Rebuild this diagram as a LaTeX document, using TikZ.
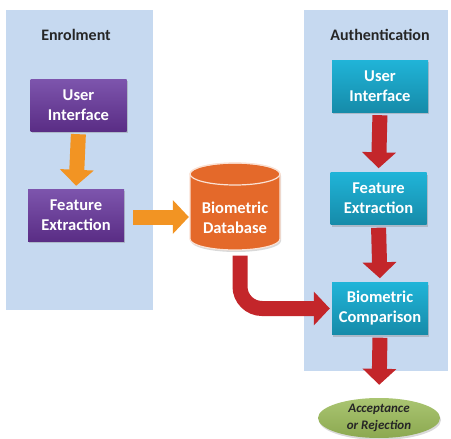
\documentclass[tikz,border=0pt]{standalone}
\usepackage{fontspec}
\setmainfont{Carlito}
\usepackage{tikz}
\usetikzlibrary{positioning,arrows.meta,shapes.geometric,shadows}

\definecolor{panelblue}{HTML}{C6D9F0}
\definecolor{purpleTop}{HTML}{7D55AD}
\definecolor{purpleBot}{HTML}{5A2D85}
\definecolor{cyanTop}{HTML}{20B4D8}
\definecolor{cyanBot}{HTML}{168BA9}
\definecolor{dbOrange}{HTML}{E4692A}
\definecolor{arrOrange}{HTML}{F29423}
\definecolor{arrRed}{HTML}{C3262A}
\definecolor{okGreen}{HTML}{9BBB59}
\definecolor{titleGrey}{HTML}{262626}

\begin{document}
\begin{tikzpicture}[
  x=1pt, y=-1pt,
  panel/.style={fill=panelblue, draw=none, inner sep=0pt},
  title/.style={font=\bfseries\fontsize{16}{19}\selectfont, text=titleGrey},
  boxfont/.style={font=\bfseries\fontsize{16.5}{20}\selectfont},
  box/.style={boxfont, minimum width=96pt, minimum height=52pt, align=center, text=white,
    drop shadow={opacity=0.35, shadow xshift=1pt, shadow yshift=-2pt}},
  enrolbox/.style={box, top color=purpleTop, bottom color=purpleBot},
  authbox/.style={box, top color=cyanTop, bottom color=cyanBot},
  blockarr/.style={line width=15pt, -{Triangle[length=16pt, width=33pt]}},
  orarr/.style={blockarr, arrOrange},
  redarr/.style={blockarr, arrRed}
]
\useasboundingbox (0,0) rectangle (451,439);

% the two stages
\node[panel, minimum width=147pt, minimum height=300pt] (enrolPanel) at (79.5,160) {};
\node[panel, minimum width=144pt, minimum height=361pt] (authPanel) at (376,190.5) {};
\node[title] (enrolTitle) at (76,35) {Enrolment};
\node[title] (authTitle) at (380,35) {Authentication};

\node[enrolbox] (enrolUI) at (78.5,105) {User\\Interface};
\node[enrolbox] (enrolFE) at (76,215) {Feature\\Extraction};

\node[authbox] (authUI) at (380,86) {User\\Interface};
\node[authbox] (authFE) at (378.5,198.5) {Feature\\Extraction};
\node[authbox] (authBC) at (380,308.5) {Biometric\\Comparison};

% database drum
\fill[dbOrange, drop shadow={opacity=0.3, shadow xshift=1pt, shadow yshift=-2pt}]
  (190,174) -- (190,239) arc[start angle=180, end angle=0, x radius=45, y radius=11]
  -- (280,174) arc[start angle=0, end angle=-180, x radius=45, y radius=11] -- cycle;
\draw[white!80!dbOrange, line width=1.2pt]
  (190,174) -- (190,239) arc[start angle=180, end angle=0, x radius=45, y radius=11]
  -- (280,174) arc[start angle=0, end angle=-180, x radius=45, y radius=11];
\draw[white!80!dbOrange, line width=1.2pt] (235,174) ellipse[x radius=45, y radius=11];
\node[boxfont, text=white, align=center, minimum width=90pt, minimum height=65pt,
  inner sep=0pt] (db) at (235,218) {Biometric\\Database};

\node[ellipse, minimum width=122pt, minimum height=40pt, inner sep=0pt,
  top color=okGreen!85!white, bottom color=okGreen!90!black, align=center,
  text=titleGrey, font=\bfseries\itshape\fontsize{13}{16.5}\selectfont,
  drop shadow={opacity=0.3, shadow xshift=1pt, shadow yshift=-2pt}] (result) at (379,418) {Acceptance\\or Rejection};

% enrolment flow
\draw[orarr, shorten <=3pt, shorten >=3pt] (enrolUI.south) -- (enrolFE.north);
\draw[orarr, shorten <=9pt, shorten >=1pt] ([yshift=-2pt]enrolFE.east) -- ([yshift=-2pt]enrolFE.east -| db.west);

% authentication flow
\draw[redarr, shorten <=3pt, shorten >=4pt] (authUI.south) -- (authFE.north);
\draw[redarr, shorten <=3pt, shorten >=4pt] (authFE.south) -- (authBC.north);
\draw[redarr, shorten <=3pt, shorten >=13pt] (authBC.south) -- (result.north);
\draw[redarr, rounded corners=22pt, shorten <=5pt, shorten >=2pt]
  ([xshift=5pt]db.south) |- (authBC.west);
\end{tikzpicture}
\end{document}
